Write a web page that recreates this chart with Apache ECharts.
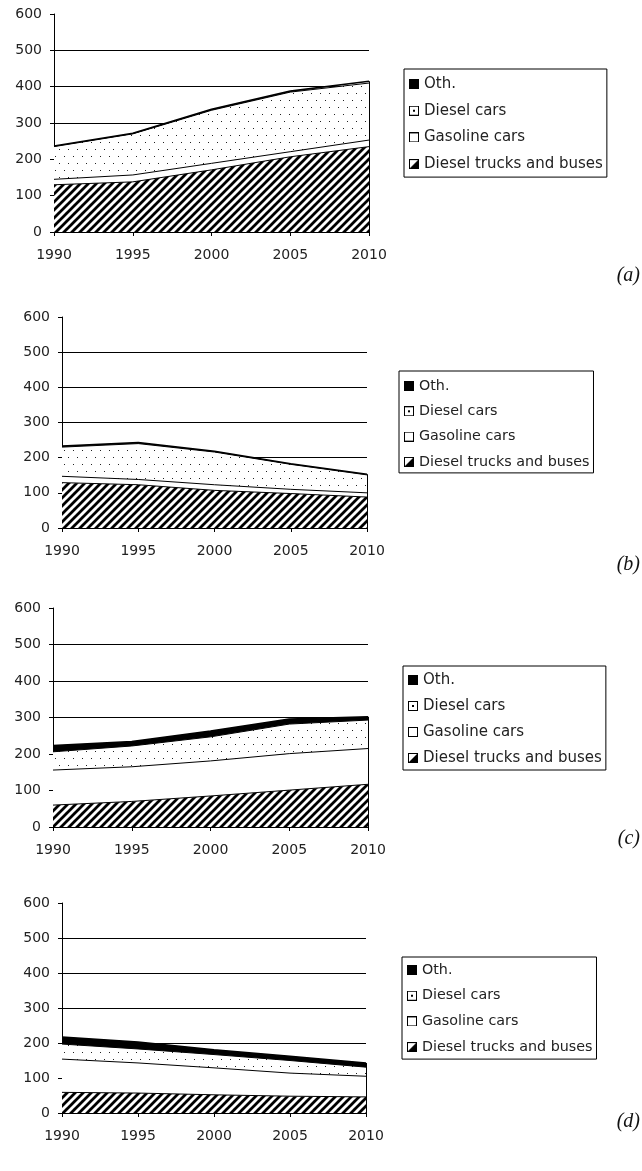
<!DOCTYPE html>
<html>
<head>
<meta charset="utf-8">
<script src="https://cdn.jsdelivr.net/npm/echarts@6/dist/echarts.min.js"></script>
<style>
  html, body { margin: 0; padding: 0; background: #fff; }
  #chart { width: 642px; height: 1171px; }
</style>
</head>
<body>
<div id="chart"></div>
<script>
// shared categories and legend names
const years = ["1990", "1995", "2000", "2005", "2010"];
const names = ["Oth.", "Diesel cars", "Gasoline cars", "Diesel trucks and buses"];
const panelLabels = ["(a)", "(b)", "(c)", "(d)"];
const yTicks = [0, 100, 200, 300, 400, 500, 600];

// (a)
const trucksA = [130, 138, 171, 207, 235];
const gasolineA = [15, 19, 18, 14, 18];
const dieselCarsA = [90, 113, 146, 164, 157];
const othA = [2, 2, 3, 3, 5];
// (b)
const trucksB = [129, 123, 107, 98, 88];
const gasolineB = [18, 15, 16, 12, 12];
const dieselCarsB = [83, 102, 93, 71, 51];
const othB = [3, 3, 2, 2, 2];
// (c)
const trucksC = [60, 70, 85, 101, 117];
const gasolineC = [96, 95, 96, 100, 98];
const dieselCarsC = [50, 57, 66, 81, 78];
const othC = [17, 12, 16, 14, 9];
// (d)
const trucksD = [59, 57, 52, 48, 46];
const gasolineD = [95, 86, 77, 66, 59];
const dieselCarsD = [43, 40, 38, 36, 26];
const othD = [20, 20, 14, 12, 12];

const panels = [
  { trucks: trucksA, gasoline: gasolineA, dieselCars: dieselCarsA, oth: othA },
  { trucks: trucksB, gasoline: gasolineB, dieselCars: dieselCarsB, oth: othB },
  { trucks: trucksC, gasoline: gasolineC, dieselCars: dieselCarsC, oth: othC },
  { trucks: trucksD, gasoline: gasolineD, dieselCars: dieselCarsD, oth: othD }
];

// layout of each panel (plot box, legend box, label)
const layout = [
  { grid: { left: 54, top: 14, width: 315, height: 218 }, legend: { left: 404, top: 69, font: 15, lh: 17, gap: 9.7, pad: [6.5, 4, 4.5, 5] }, label: 266 },
  { grid: { left: 62, top: 317, width: 305, height: 211 }, legend: { left: 399, top: 371, font: 14.3, lh: 16, gap: 9.3, pad: [7, 4, 3, 5] }, label: 555 },
  { grid: { left: 53, top: 608, width: 315, height: 219 }, legend: { left: 403, top: 666, font: 15, lh: 17, gap: 9, pad: [5.5, 4, 3.5, 5] }, label: 829 },
  { grid: { left: 62, top: 903, width: 304, height: 210 }, legend: { left: 402, top: 957, font: 14.3, lh: 16, gap: 9.7, pad: [5, 4, 4, 5] }, label: 1112 }
];

const FONT = "DejaVu Sans";
const TXT = "#222";

function tile(w, h, draw) {
  const c = document.createElement("canvas");
  c.width = w; c.height = h;
  const g = c.getContext("2d");
  g.fillStyle = "#fff";
  g.fillRect(0, 0, w, h);
  draw(g);
  return c;
}

const hatch = tile(8, 8, g => {
  g.strokeStyle = "#000";
  g.lineWidth = 2.8;
  g.beginPath();
  g.moveTo(0, 8); g.lineTo(8, 0);
  g.moveTo(-2, 2); g.lineTo(2, -2);
  g.moveTo(6, 10); g.lineTo(10, 6);
  g.stroke();
});

const dots = tile(9, 14, g => {
  g.fillStyle = "#222";
  g.fillRect(1, 2, 1, 1);
  g.fillRect(5, 9, 1, 1);
});

function icon(draw) {
  const c = tile(10, 10, draw);
  const g = c.getContext("2d");
  g.strokeStyle = "#000";
  g.lineWidth = 1;
  g.strokeRect(0.5, 0.5, 9, 9);
  return "image://" + c.toDataURL();
}

const icons = [
  icon(g => { g.fillStyle = "#000"; g.fillRect(0, 0, 10, 10); }),
  icon(g => { g.fillStyle = "#000"; g.fillRect(4, 4, 2, 2); }),
  icon(() => {}),
  icon(g => { g.fillStyle = "#000"; g.beginPath(); g.moveTo(10, 0); g.lineTo(10, 10); g.lineTo(0, 10); g.closePath(); g.fill(); })
];

const grid = [], xAxis = [], yAxis = [], legend = [], series = [], title = [];

panels.forEach((p, i) => {
  const L = layout[i];
  grid.push(L.grid);

  xAxis.push({
    type: "category", gridIndex: i, data: years, boundaryGap: false,
    axisLine: { lineStyle: { color: "#000", width: 1 } },
    axisTick: { show: true, length: 4, lineStyle: { color: "#000" } },
    axisLabel: { color: TXT, fontFamily: FONT, fontSize: 14, margin: 16 },
    splitLine: { show: false }
  });

  yAxis.push({
    type: "value", gridIndex: i, min: 0, max: 600, interval: 100,
    axisLine: { show: true, lineStyle: { color: "#000", width: 1 } },
    axisTick: { show: true, length: 4, lineStyle: { color: "#000" } },
    axisLabel: { color: TXT, fontFamily: FONT, fontSize: 14, margin: 12 },
    splitLine: { show: true, lineStyle: { color: yTicks.map(v => v === 600 ? "rgba(0,0,0,0)" : "#000"), width: 1 } }
  });

  legend.push({
    orient: "vertical", left: L.legend.left, top: L.legend.top,
    padding: L.legend.pad, itemGap: L.legend.gap,
    itemWidth: 10, itemHeight: 10, itemTextGap: 5,
    backgroundColor: "#fff", borderColor: "#000", borderWidth: 1, borderRadius: 0,
    selectedMode: false,
    textStyle: { color: TXT, fontFamily: FONT, fontSize: L.legend.font, lineHeight: L.legend.lh },
    data: names.map((n, k) => ({ name: n, icon: icons[k] }))
  });

  title.push({
    text: panelLabels[i], right: 2, top: L.label, padding: 0,
    textStyle: { fontFamily: "Liberation Serif", fontStyle: "italic", fontWeight: "normal", fontSize: 20, color: "#111" }
  });

  const total2010 = p.trucks[4] + p.gasoline[4] + p.dieselCars[4] + p.oth[4];
  const layers = [
    { name: names[3], data: p.trucks, fill: { image: hatch, repeat: "repeat" } },
    { name: names[2], data: p.gasoline, fill: "#fff" },
    { name: names[1], data: p.dieselCars, fill: { image: dots, repeat: "repeat" } },
    { name: names[0], data: p.oth, fill: "#000" }
  ];
  layers.forEach((s, k) => {
    const ser = {
      type: "line", name: s.name, xAxisIndex: i, yAxisIndex: i,
      stack: "p" + i, data: s.data, symbol: "none", smooth: false,
      color: "#000",
      lineStyle: { color: "#000", width: k === 3 ? 1.5 : 1 },
      areaStyle: { color: s.fill, opacity: 1 },
      emphasis: { disabled: true },
      silent: true, animation: false
    };
    if (k === 3) {
      ser.markLine = {
        symbol: "none", silent: true, animation: false,
        label: { show: false },
        lineStyle: { color: "#000", type: "solid", width: 1 },
        data: [[{ coord: [years[4], 0] }, { coord: [years[4], total2010] }]]
      };
    }
    series.push(ser);
  });
});

const chart = echarts.init(document.getElementById("chart"), null, { renderer: "canvas" });
chart.setOption({
  backgroundColor: "#fff",
  animation: false,
  title, grid, xAxis, yAxis, legend, series
});
</script>
</body>
</html>
